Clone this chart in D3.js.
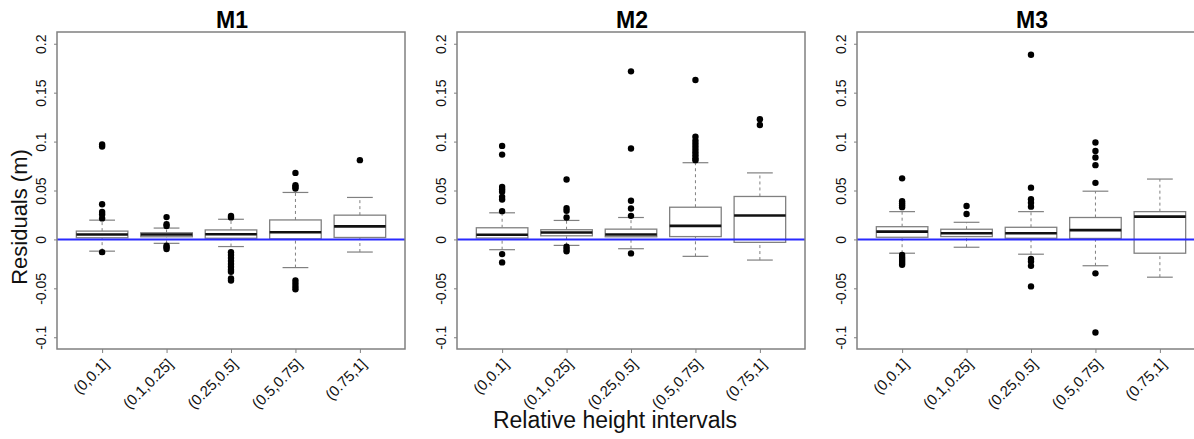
<!DOCTYPE html>
<html>
<head>
<meta charset="utf-8">
<script src="https://cdn.jsdelivr.net/npm/d3@7"></script>
<style>
  body { margin: 0; background: #fff; }
  text { font-family: "Liberation Sans", Arial, sans-serif; }
</style>
</head>
<body>
<div id="chart"></div>
<script>
var categories = ["(0,0.1]", "(0.1,0.25]", "(0.25,0.5]", "(0.5,0.75]", "(0.75,1]"];
var panelNames = ["M1", "M2", "M3"];
var yTicks = [-0.1, -0.05, 0, 0.05, 0.1, 0.15, 0.2];

/* [lower whisker, Q1, median, Q3, upper whisker] per interval */
var m1Stats = [
  [-0.012, 0.0017, 0.005, 0.0085, 0.0197],
  [-0.004, 0.0027, 0.005, 0.0068, 0.0116],
  [-0.0073, 0.0012, 0.0053, 0.0097, 0.0206],
  [-0.0288, 0.0005, 0.0073, 0.0199, 0.048],
  [-0.0129, 0.002, 0.0133, 0.0248, 0.0429]
];
var m1Outliers = [
  [0.097, 0.095, 0.036, 0.028, 0.0255, 0.0215, -0.013],
  [0.0228, 0.0156, 0.0136, -0.0065, -0.008, -0.0099],
  [0.024, 0.0225, -0.013, -0.016, -0.019, -0.022, -0.025, -0.028, -0.031, -0.033, -0.040, -0.042],
  [0.068, 0.0554, 0.0537, 0.052, -0.042, -0.045, -0.048, -0.051],
  [0.081]
];

var m2Stats = [
  [-0.0105, 0.0014, 0.0048, 0.0119, 0.0272],
  [-0.0061, 0.0037, 0.0071, 0.0099, 0.0194],
  [-0.0095, 0.0027, 0.005, 0.0105, 0.0224],
  [-0.0173, 0.0029, 0.0138, 0.0329, 0.0784],
  [-0.0211, -0.003, 0.0245, 0.0439, 0.068]
];
var m2Outliers = [
  [0.0956, 0.0867, 0.0537, 0.051, 0.0486, 0.0435, 0.0408, 0.0289, -0.015, -0.0235],
  [0.0612, 0.032, 0.0293, 0.0224, -0.0075, -0.0099, -0.0122],
  [0.1718, 0.0929, 0.0395, 0.0316, 0.0241, -0.0143],
  [0.163, 0.105, 0.101, 0.098, 0.095, 0.092, 0.089, 0.086, 0.083, 0.081],
  [0.1228, 0.117]
];

var m3Stats = [
  [-0.0141, 0.0022, 0.008, 0.013, 0.0284],
  [-0.008, 0.0029, 0.0063, 0.0104, 0.0175],
  [-0.0151, 0.0012, 0.0063, 0.0124, 0.0284],
  [-0.0269, 0.001, 0.0095, 0.0224, 0.0493],
  [-0.0386, -0.0141, 0.0233, 0.0284, 0.0617]
];
var m3Outliers = [
  [0.0624, 0.039, 0.037, 0.035, 0.033, -0.016, -0.018, -0.020, -0.022, -0.024, -0.026],
  [0.0342, 0.026],
  [0.1888, 0.0529, 0.041, 0.0376, 0.0335, -0.020, -0.0226, -0.027, -0.048],
  [0.099, 0.0905, 0.0837, 0.0759, 0.0578, -0.0347, -0.0952],
  []
];

var width = 1194,
    height = 439,
    plotTop = 32,
    plotBottom = 349,
    plotWidth = 348,
    panelLefts = [57, 457, 857];

var stats = [m1Stats, m2Stats, m3Stats];
var outliers = [m1Outliers, m2Outliers, m3Outliers];

var svg = d3.select("#chart")
    .append("svg")
    .attr("width", width)
    .attr("height", height);

svg.append("rect").attr("width", width).attr("height", height).attr("fill", "#fff");

var y = d3.scaleLinear()
    .domain([-0.112, 0.212])
    .range([plotBottom, plotTop]);

var grey = "#808080";

panelNames.forEach(function(name, p) {
  var left = panelLefts[p];
  var x = d3.scaleLinear()
      .domain([0.3, 5.7])
      .range([left, left + plotWidth]);
  var half = (x(1.4) - x(1));

  var g = svg.append("g");

  /* y axis */
  var yAxis = g.append("g")
      .attr("transform", "translate(" + left + ",0)")
      .call(d3.axisLeft(y).tickValues(yTicks).tickSize(3)
        .tickFormat(function(d) { return String(+d.toFixed(2)); }));
  yAxis.attr("font-size", null).attr("font-family", null);
  yAxis.select(".domain").remove();
  yAxis.selectAll(".tick line").attr("stroke", grey);
  yAxis.selectAll(".tick text")
      .attr("transform", "rotate(-90)")
      .attr("x", 0).attr("y", -11).attr("dy", 0)
      .attr("text-anchor", "middle")
      .style("font-size", "14px")
      .attr("fill", "#111");

  /* x axis */
  var xAxis = g.append("g")
      .attr("transform", "translate(0," + plotBottom + ")")
      .call(d3.axisBottom(x).tickValues([1, 2, 3, 4, 5]).tickSize(4)
        .tickFormat(function(d) { return categories[d - 1]; }));
  xAxis.attr("font-size", null).attr("font-family", null);
  xAxis.select(".domain").remove();
  xAxis.selectAll(".tick line").attr("stroke", grey);
  xAxis.selectAll(".tick text")
      .attr("x", 0).attr("y", 0).attr("dy", 0)
      .attr("transform", "translate(7,16) rotate(-45)")
      .attr("text-anchor", "end")
      .style("font-size", "15px")
      .attr("fill", "#111");

  /* boxes */
  stats[p].forEach(function(s, i) {
    var cx = x(i + 1);
    var bg = g.append("g");
    bg.append("line")
        .attr("x1", cx).attr("x2", cx)
        .attr("y1", y(s[3])).attr("y2", y(s[4]))
        .attr("stroke", grey).attr("stroke-dasharray", "3,3");
    bg.append("line")
        .attr("x1", cx).attr("x2", cx)
        .attr("y1", y(s[0])).attr("y2", y(s[1]))
        .attr("stroke", grey).attr("stroke-dasharray", "3,3");
    [s[0], s[4]].forEach(function(v) {
      bg.append("line")
          .attr("x1", cx - half / 2).attr("x2", cx + half / 2)
          .attr("y1", y(v)).attr("y2", y(v))
          .attr("stroke", grey).attr("stroke-width", 1.2);
    });
    bg.append("rect")
        .attr("x", cx - half).attr("width", half * 2)
        .attr("y", y(s[3])).attr("height", y(s[1]) - y(s[3]))
        .attr("fill", "#fff").attr("stroke", grey).attr("stroke-width", 1.3);
    bg.append("line")
        .attr("x1", cx - half).attr("x2", cx + half)
        .attr("y1", y(s[2])).attr("y2", y(s[2]))
        .attr("stroke", "#111").attr("stroke-width", 2.6);

    bg.selectAll("circle")
        .data(outliers[p][i])
        .enter().append("circle")
        .attr("cx", cx)
        .attr("cy", function(d) { return y(d); })
        .attr("r", 3.2)
        .attr("fill", "#000");
  });

  /* zero line */
  g.append("line")
      .attr("x1", left).attr("x2", left + plotWidth)
      .attr("y1", y(0)).attr("y2", y(0))
      .attr("stroke", "#2a2aff").attr("stroke-width", 2);

  /* frame */
  g.append("rect")
      .attr("x", left).attr("y", plotTop)
      .attr("width", plotWidth).attr("height", plotBottom - plotTop)
      .attr("fill", "none").attr("stroke", grey).attr("stroke-width", 1.5);

  /* title */
  g.append("text")
      .attr("x", left + plotWidth / 2 + 1)
      .attr("y", 28)
      .attr("text-anchor", "middle")
      .style("font-size", "23px")
      .attr("font-weight", "bold")
      .text(name);
});

svg.append("text")
    .attr("transform", "translate(27,217) rotate(-90)")
    .attr("text-anchor", "middle")
    .style("font-size", "22px")
    .attr("fill", "#111")
    .text("Residuals (m)");

svg.append("text")
    .attr("x", 615)
    .attr("y", 428)
    .attr("text-anchor", "middle")
    .style("font-size", "23px")
    .attr("fill", "#111")
    .text("Relative height intervals");
</script>
</body>
</html>
